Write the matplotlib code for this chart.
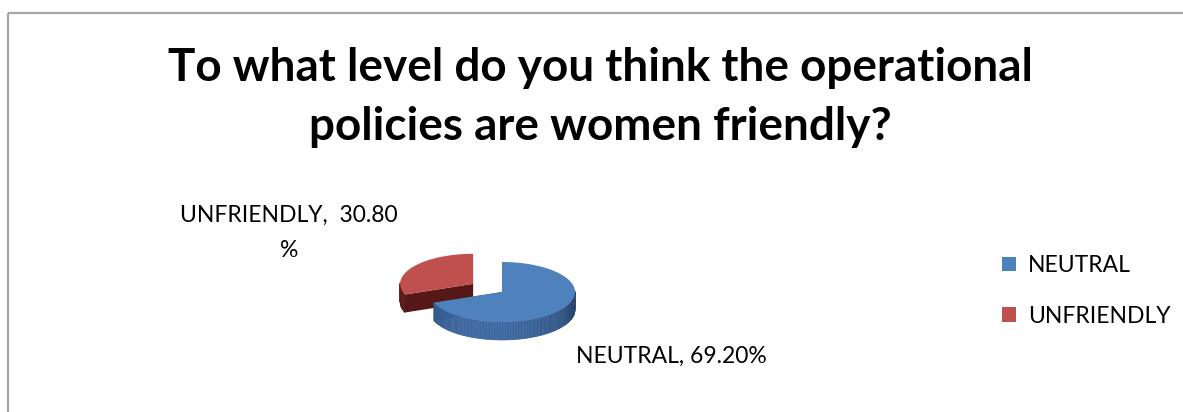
import numpy as np
import matplotlib.pyplot as plt
import matplotlib.colors as mcolors
from matplotlib.patches import Polygon, Rectangle, Patch

categories = ['NEUTRAL', 'UNFRIENDLY']
shares = [69.20, 30.80]
data_labels = ['NEUTRAL, 69.20%', 'UNFRIENDLY,  30.80\n%']
title = 'To what level do you think the operational\npolicies are women friendly?'

top_colors = ['#4F81BD', '#C0504D']
side_colors = ['#3A6399', '#6B2220']
face_colors = ['#2E4F7C', '#561816']

W, H = 1183, 412
plt.rcParams['font.family'] = ['Lato', 'DejaVu Sans']

fig = plt.figure(figsize=(W / 100, H / 100), dpi=100)
ax = fig.add_axes([0, 0, 1, 1])
ax.set_xlim(0, W)
ax.set_ylim(H, 0)
ax.axis('off')

# chart area border (cut off on right and bottom)
ax.add_patch(Rectangle((8.5, 12.5), W, H, fill=False, edgecolor='#A6A6A6', lw=1.6))

ax.text(600, 97, title, ha='center', va='center', fontsize=33, fontweight='bold',
        linespacing=1.5, color='black')

# --- pseudo 3D pie ---
cx, cy = 502, 292      # apex of the un-exploded slice
rx, ry = 73, 30        # ellipse radii of the top surface
depth = 18             # thickness of the pie
explode = [0.0, 0.48]


def pt(th, ox, oy, dz=0.0):
    return ox + rx * np.cos(th), oy - ry * np.sin(th) + dz


fracs = np.array(shares) / sum(shares)
starts = []
a = np.pi / 2
for f in fracs:
    starts.append((a - 2 * np.pi * f, a))  # clockwise from 12 o'clock
    a -= 2 * np.pi * f

order = [1, 0]  # back slice first
for i in order:
    t0, t1 = starts[i]
    mid = (t0 + t1) / 2
    ox = cx + explode[i] * rx * np.cos(mid)
    oy = cy - explode[i] * ry * np.sin(mid)

    # radial faces
    for th in (t0, t1):
        ex, ey = pt(th, ox, oy)
        ax.add_patch(Polygon([(ox, oy), (ex, ey), (ex, ey + depth), (ox, oy + depth)],
                             closed=True, facecolor=face_colors[i], edgecolor='none'))

    # outer side, split into strips for shading
    base = np.array(mcolors.to_rgb(side_colors[i]))
    ths = np.linspace(t0, t1, 200)
    for k in range(len(ths) - 1):
        a0, a1 = ths[k], ths[k + 1]
        am = (a0 + a1) / 2
        if np.sin(am) > 0.05:
            continue
        shade = 0.7 + 0.35 * np.clip(-np.sin(am) - 0.2 * np.cos(am), 0, 1)
        col = np.clip(base * shade, 0, 1)
        p0 = pt(a0, ox, oy)
        p1 = pt(a1, ox, oy)
        ax.add_patch(Polygon([p0, p1, (p1[0], p1[1] + depth), (p0[0], p0[1] + depth)],
                             closed=True, facecolor=col, edgecolor=col, lw=0.4))

    # top surface
    xs, ys = pt(ths, ox, oy)
    verts = [(ox, oy)] + list(zip(xs, ys))
    ax.add_patch(Polygon(verts, closed=True, facecolor=top_colors[i], edgecolor='none'))

# data labels
ax.text(671, 356, data_labels[0], ha='center', va='center', fontsize=16.5, color='black')
ax.text(289, 233, data_labels[1], ha='center', va='center', fontsize=16.5, color='black',
        linespacing=1.85)

handles = [Patch(facecolor=c, edgecolor='none') for c in top_colors]
fig.legend(handles, categories, loc='upper left', bbox_to_anchor=(1002 / W, 1 - 255 / H),
           frameon=False, fontsize=16.5, handlelength=0.62, handleheight=0.62,
           handletextpad=0.5, labelspacing=1.3, borderpad=0, borderaxespad=0)

fig.savefig('out.png', dpi=100)
